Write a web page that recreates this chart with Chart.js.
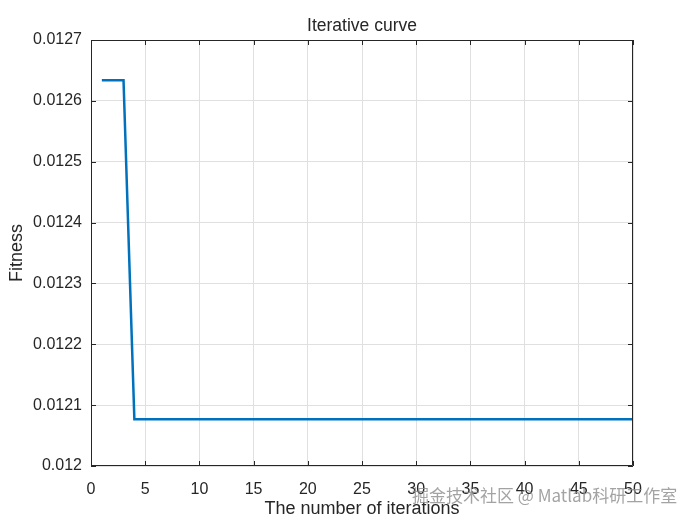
<!DOCTYPE html>
<html>
<head>
<meta charset="utf-8">
<script src="https://cdn.jsdelivr.net/npm/chart.js@4/dist/chart.umd.min.js"></script>
<style>
  html, body { margin: 0; padding: 0; background: #fff; }
  #wrap { width: 700px; height: 525px; position: relative; }
</style>
</head>
<body>
<div id="wrap"><canvas id="curve"></canvas></div>
<script>
const iterations = [1, 2, 3, 4, 5, 6, 7, 8, 9, 10, 11, 12, 13, 14, 15, 16, 17, 18, 19, 20,
  21, 22, 23, 24, 25, 26, 27, 28, 29, 30, 31, 32, 33, 34, 35, 36, 37, 38, 39, 40,
  41, 42, 43, 44, 45, 46, 47, 48, 49, 50];
const fitness = [0.012634, 0.012634, 0.012634, 0.012077, 0.012077, 0.012077, 0.012077, 0.012077, 0.012077, 0.012077,
  0.012077, 0.012077, 0.012077, 0.012077, 0.012077, 0.012077, 0.012077, 0.012077, 0.012077, 0.012077,
  0.012077, 0.012077, 0.012077, 0.012077, 0.012077, 0.012077, 0.012077, 0.012077, 0.012077, 0.012077,
  0.012077, 0.012077, 0.012077, 0.012077, 0.012077, 0.012077, 0.012077, 0.012077, 0.012077, 0.012077,
  0.012077, 0.012077, 0.012077, 0.012077, 0.012077, 0.012077, 0.012077, 0.012077, 0.012077, 0.012077];
const xTicks = [0, 5, 10, 15, 20, 25, 30, 35, 40, 45, 50];
const yTicks = [0.012, 0.0121, 0.0122, 0.0123, 0.0124, 0.0125, 0.0126, 0.0127];
const titleText = "Iterative curve";
const watermark = "掘金技术社区 @ Matlab科研工作室";

const axisColor = "#262626";
const fontFamily = "'Liberation Sans', Arial, sans-serif";

// MATLAB-like box with inward ticks, title centred over the axes
const boxPlugin = {
  id: "box",
  afterDraw(chart) {
    const { ctx, chartArea: a } = chart;
    const xs = chart.scales.x, ys = chart.scales.y;
    ctx.save();
    ctx.strokeStyle = axisColor;
    ctx.lineWidth = 1;
    ctx.beginPath();
    ctx.rect(a.left + 0.5, a.top + 0.5, a.right - a.left - 1, a.bottom - a.top - 1);
    xs.ticks.forEach(t => {
      const px = Math.round(xs.getPixelForValue(t.value)) + 0.5;
      ctx.moveTo(px, a.bottom); ctx.lineTo(px, a.bottom - 5);
      ctx.moveTo(px, a.top); ctx.lineTo(px, a.top + 5);
    });
    ys.ticks.forEach(t => {
      const py = Math.round(ys.getPixelForValue(t.value)) + 0.5;
      ctx.moveTo(a.left, py); ctx.lineTo(a.left + 5, py);
      ctx.moveTo(a.right, py); ctx.lineTo(a.right - 5, py);
    });
    ctx.stroke();

    ctx.fillStyle = axisColor;
    ctx.font = "17.5px " + fontFamily;
    ctx.textAlign = "center";
    ctx.textBaseline = "middle";
    ctx.fillText(titleText, (a.left + a.right) / 2, 26);

    ctx.fillStyle = "rgba(140,140,140,0.8)";
    ctx.font = "17px 'Noto Sans CJK SC', sans-serif";
    ctx.textAlign = "left";
    ctx.fillText(watermark, 412, 496);
    ctx.restore();
  }
};

new Chart(document.getElementById("curve"), {
  type: "line",
  data: {
    labels: iterations,
    datasets: [{
      data: iterations.map((it, i) => ({ x: it, y: fitness[i] })),
      borderColor: "#0072BD",
      borderWidth: 2.5,
      pointRadius: 0,
      fill: false,
      tension: 0
    }]
  },
  options: {
    responsive: true,
    maintainAspectRatio: false,
    animation: false,
    layout: { padding: { left: 0, right: 67, top: 40, bottom: 0 } },
    plugins: {
      legend: { display: false },
      tooltip: { enabled: false },
      title: { display: false }
    },
    scales: {
      x: {
        type: "linear",
        min: 0,
        max: 50,
        afterBuildTicks: s => { s.ticks = xTicks.map(v => ({ value: v })); },
        afterFit: s => { s.height = 59; },
        grid: { color: "#e0e0e0", drawTicks: false },
        border: { display: false },
        ticks: {
          color: axisColor,
          padding: 14,
          maxRotation: 0,
          font: { family: fontFamily, size: 16 },
          callback: v => String(v)
        },
        title: {
          display: true,
          text: "The number of iterations",
          color: axisColor,
          font: { family: fontFamily, size: 18 },
          padding: { top: 0, bottom: 5 }
        }
      },
      y: {
        min: 0.012,
        max: 0.0127,
        afterBuildTicks: s => { s.ticks = yTicks.map(v => ({ value: v })); },
        afterFit: s => { s.width = 91; },
        grid: { color: "#e0e0e0", drawTicks: false },
        border: { display: false },
        ticks: {
          color: axisColor,
          padding: 9,
          font: { family: fontFamily, size: 16 },
          callback: v => String(Number(v.toFixed(4)))
        },
        title: {
          display: true,
          text: "Fitness",
          color: axisColor,
          font: { family: fontFamily, size: 18 },
          padding: { top: 6, bottom: 0 }
        }
      }
    }
  },
  plugins: [boxPlugin]
});
</script>
</body>
</html>
